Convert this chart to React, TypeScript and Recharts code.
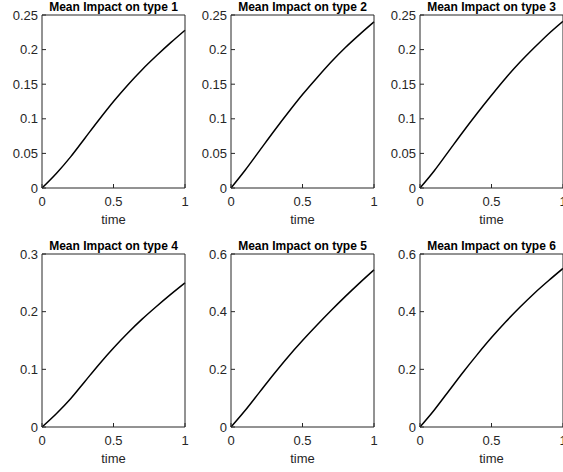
import React from 'react';
import { LineChart, Line, XAxis, YAxis } from 'recharts';

// time grid shared by all six panels
const times = [0, 0.1, 0.2, 0.3, 0.4, 0.5, 0.6, 0.7, 0.8, 0.9, 1];

// mean impact curves
const impactType1 = [0, 0.021, 0.045, 0.072, 0.099, 0.125, 0.149, 0.171, 0.191, 0.21, 0.228];
const impactType2 = [0, 0.026, 0.054, 0.082, 0.109, 0.135, 0.159, 0.182, 0.203, 0.222, 0.24];
const impactType3 = [0, 0.025, 0.053, 0.081, 0.108, 0.134, 0.159, 0.182, 0.203, 0.223, 0.241];
const impactType4 = [0, 0.023, 0.049, 0.079, 0.109, 0.137, 0.163, 0.187, 0.209, 0.23, 0.25];
const impactType5 = [0, 0.058, 0.121, 0.184, 0.244, 0.3, 0.353, 0.404, 0.453, 0.5, 0.545];
const impactType6 = [0, 0.059, 0.124, 0.189, 0.251, 0.31, 0.365, 0.416, 0.464, 0.508, 0.55];

const titles = [
  'Mean Impact on type 1',
  'Mean Impact on type 2',
  'Mean Impact on type 3',
  'Mean Impact on type 4',
  'Mean Impact on type 5',
  'Mean Impact on type 6',
];

const xTicks = [0, 0.5, 1];
const yTicksSmall = [0, 0.05, 0.1, 0.15, 0.2, 0.25];
const yTicksMid = [0, 0.1, 0.2, 0.3];
const yTicksLarge = [0, 0.2, 0.4, 0.6];

const panels = [
  { title: titles[0], values: impactType1, yTicks: yTicksSmall },
  { title: titles[1], values: impactType2, yTicks: yTicksSmall },
  { title: titles[2], values: impactType3, yTicks: yTicksSmall },
  { title: titles[3], values: impactType4, yTicks: yTicksMid },
  { title: titles[4], values: impactType5, yTicks: yTicksLarge },
  { title: titles[5], values: impactType6, yTicks: yTicksLarge },
];

const AXIS = '#262626';
const FONT = '"Liberation Sans", Arial, sans-serif';
const tickStyle = { fontSize: 13, fill: AXIS, fontFamily: FONT };

const CHART_W = 189;
const CHART_H = 228;

function Panel({ title, values, yTicks }: { title: string; values: number[]; yTicks: number[] }) {
  const data = times.map((t, i) => ({ t, v: values[i] }));
  const yMax = yTicks[yTicks.length - 1];
  return (
    <LineChart
      width={CHART_W}
      height={CHART_H}
      data={data}
      margin={{ top: 14, right: 3, bottom: 0, left: 0 }}
    >
      <XAxis
        dataKey="t"
        type="number"
        domain={[0, 1]}
        ticks={xTicks}
        height={40}
        tickSize={-4}
        tickMargin={13}
        tick={tickStyle}
        stroke={AXIS}
        label={{ value: 'time', position: 'insideBottom', offset: 4, fontSize: 13, fill: AXIS, fontFamily: FONT }}
      />
      <XAxis
        xAxisId="top"
        orientation="top"
        dataKey="t"
        type="number"
        domain={[0, 1]}
        ticks={xTicks}
        height={1}
        tickSize={-4}
        tick={false}
        stroke={AXIS}
        label={{ value: title, position: 'top', offset: 3, fontSize: 12, fontWeight: 'bold', fill: '#000', fontFamily: FONT }}
      />
      <YAxis
        type="number"
        domain={[0, yMax]}
        ticks={yTicks}
        width={42}
        tickSize={-4}
        tickMargin={8}
        tick={tickStyle}
        stroke={AXIS}
      />
      <YAxis
        yAxisId="right"
        orientation="right"
        type="number"
        domain={[0, yMax]}
        ticks={yTicks}
        width={1}
        tickSize={-4}
        tick={false}
        stroke={AXIS}
      />
      <Line
        type="monotone"
        dataKey="v"
        stroke="#000"
        strokeWidth={1.5}
        dot={false}
        isAnimationActive={false}
      />
      {/* invisible copy so the top/right box axes get drawn */}
      <Line
        xAxisId="top"
        yAxisId="right"
        dataKey="v"
        stroke="none"
        dot={false}
        activeDot={false}
        isAnimationActive={false}
      />
    </LineChart>
  );
}

export default function App() {
  const colLeft = [0, 189, 378];
  const rowTop = [0, 239];
  return (
    <div
      style={{
        position: 'absolute',
        top: 0,
        left: 0,
        width: 563,
        height: 472,
        overflow: 'hidden',
        background: '#fff',
      }}
    >
      {panels.map((p, i) => (
        <div
          key={p.title}
          style={{ position: 'absolute', left: colLeft[i % 3], top: rowTop[Math.floor(i / 3)] }}
        >
          <Panel title={p.title} values={p.values} yTicks={p.yTicks} />
        </div>
      ))}
    </div>
  );
}
